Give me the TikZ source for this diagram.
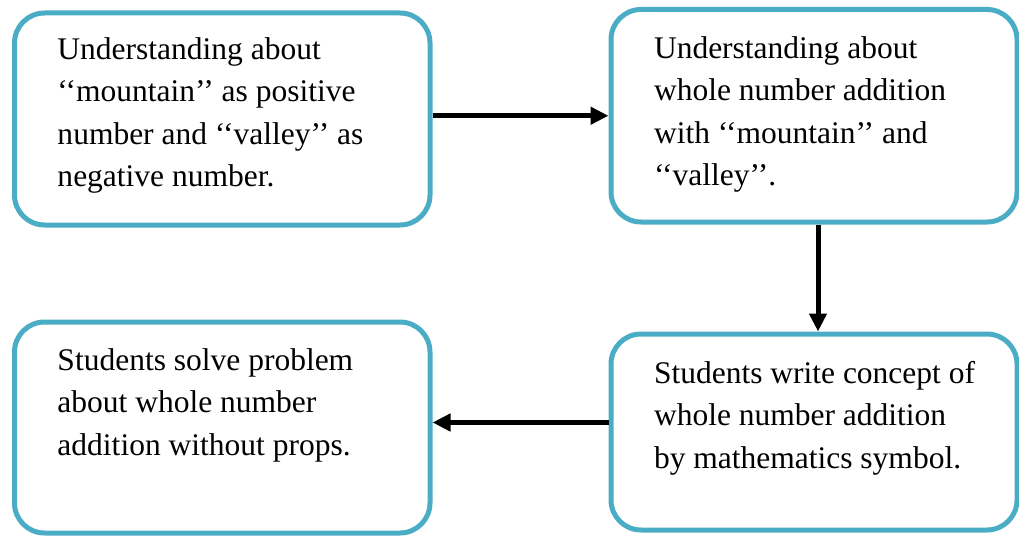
\documentclass[tikz,border=0pt]{standalone}
\usepackage{fontspec}
\setmainfont{Liberation Serif}
\usetikzlibrary{arrows.meta}
\definecolor{stageblue}{HTML}{4BACC6}
\newcommand{\stagetext}[4]{\parbox[c][#2][t]{#1}{\raggedright\leftskip=43pt\vspace*{#3}\strut#4}}

\begin{document}
\begin{tikzpicture}[x=1pt,y=-1pt]
        \useasboundingbox (0,0) rectangle (1019,535);
        \begin{scope}[every node/.style={rectangle,rounded corners=30pt,draw=stageblue,line width=5pt,inner sep=0pt,font=\fontsize{31.5}{42.5}\selectfont}]
            \node (S1) at (222.25,119) {\stagetext{415.5pt}{212pt}{16.25pt}{Understanding about\\‘‘mountain’’ as positive\\number and ‘‘valley’’ as\\negative number.}};
            \node (S2) at (814,115.75) {\stagetext{406pt}{212.5pt}{18.75pt}{Understanding about\\whole number addition\\with ‘‘mountain’’ and\\‘‘valley’’.}};
            \node (S3) at (814,432) {\stagetext{406pt}{196pt}{19.25pt}{Students write concept of\\whole number addition\\by mathematics symbol.}};
            \node (S4) at (222.25,427.5) {\stagetext{415.5pt}{211pt}{18.25pt}{Students solve problem\\about whole number\\addition without props.}};
        \end{scope}
        \path [-{Triangle[length=18pt,width=17pt]}] (S1.east |- S2.west) edge[draw=black,line width=5pt] (S2.west);
        \path [-{Triangle[length=18pt,width=17pt]}] ([xshift=4pt]S2.south) edge[draw=black,line width=5pt] ([xshift=4pt]S3.north);
        \path [-{Triangle[length=18pt,width=17pt]}] ([yshift=5pt]S4.east -| S3.west) edge[draw=black,line width=5pt] ([yshift=5pt]S4.east);
    \end{tikzpicture}
\end{document}
